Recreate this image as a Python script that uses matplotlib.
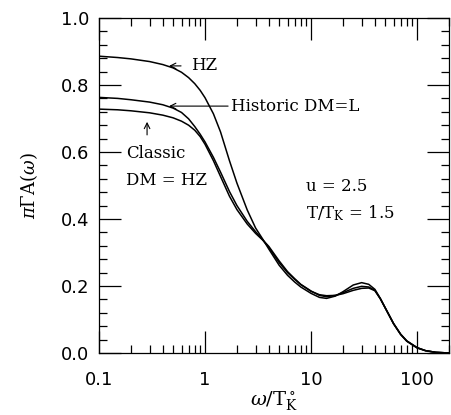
import matplotlib
matplotlib.use("Agg")
import matplotlib.pyplot as plt
from matplotlib.ticker import MultipleLocator, LogLocator, NullFormatter, FixedLocator, FixedFormatter

omega = [0.1, 0.15, 0.2, 0.3, 0.4, 0.5, 0.6, 0.7, 0.8, 0.9, 1.0, 1.2, 1.4, 1.7, 2.0,
         2.5, 3.0, 3.5, 4.0, 5, 6, 7, 8, 10, 12, 14, 17, 20, 25, 30, 35, 40, 45,
         50, 60, 70, 80, 100, 120, 150, 200]

hz = [0.886, 0.882, 0.878, 0.870, 0.861, 0.851, 0.838, 0.822, 0.804, 0.784, 0.762,
      0.714, 0.660, 0.574, 0.507, 0.427, 0.373, 0.340, 0.310, 0.262, 0.232, 0.212,
      0.197, 0.178, 0.166, 0.163, 0.170, 0.183, 0.203, 0.210, 0.205, 0.190, 0.163,
      0.135, 0.087, 0.055, 0.035, 0.015, 0.007, 0.002, 0.0]

historic = [0.763, 0.760, 0.756, 0.749, 0.741, 0.731, 0.718, 0.699, 0.676, 0.653, 0.630,
            0.584, 0.540, 0.482, 0.440, 0.393, 0.362, 0.338, 0.318, 0.275, 0.243, 0.222,
            0.205, 0.185, 0.172, 0.168, 0.172, 0.180, 0.193, 0.199, 0.197, 0.187, 0.162,
            0.135, 0.088, 0.056, 0.036, 0.016, 0.007, 0.002, 0.0]

classic = [0.728, 0.726, 0.723, 0.717, 0.710, 0.702, 0.692, 0.680, 0.665, 0.646, 0.623,
           0.574, 0.527, 0.468, 0.428, 0.385, 0.357, 0.337, 0.315, 0.270, 0.240, 0.220,
           0.204, 0.184, 0.174, 0.171, 0.172, 0.177, 0.187, 0.193, 0.194, 0.186, 0.162,
           0.135, 0.088, 0.056, 0.036, 0.016, 0.007, 0.002, 0.0]

xticks = [0.1, 1, 10, 100]
xticklabels = ["0.1", "1", "10", "100"]
yticks = [0.0, 0.2, 0.4, 0.6, 0.8, 1.0]
yticklabels = ["0.0", "0.2", "0.4", "0.6", "0.8", "1.0"]

plt.rcParams["mathtext.fontset"] = "dejavuserif"

fig = plt.figure(figsize=(4.51, 4.15), dpi=100)
ax = fig.add_axes([99 / 451, 62 / 415, 350 / 451, 335 / 415])

for y in (hz, historic, classic):
    ax.plot(omega, y, color="black", lw=1.1)

ax.set_xscale("log")
ax.set_xlim(0.1, 200)
ax.set_ylim(0.0, 1.0)

ax.xaxis.set_major_locator(FixedLocator(xticks))
ax.xaxis.set_major_formatter(FixedFormatter(xticklabels))
ax.xaxis.set_minor_locator(LogLocator(base=10, subs=range(2, 10), numticks=20))
ax.xaxis.set_minor_formatter(NullFormatter())
ax.yaxis.set_major_locator(FixedLocator(yticks))
ax.yaxis.set_major_formatter(FixedFormatter(yticklabels))
ax.yaxis.set_minor_locator(MultipleLocator(0.04))

ax.tick_params(which="both", direction="in", top=True, right=True, width=0.9)
ax.tick_params(which="major", length=16, labelsize=13)
ax.tick_params(axis="x", which="major", pad=13)
ax.tick_params(axis="y", which="major", pad=7)
ax.tick_params(which="minor", length=6)
for s in ax.spines.values():
    s.set_linewidth(0.9)

ax.set_xlabel(r"$\omega/\mathrm{T}_\mathrm{K}^\circ$", fontsize=14, labelpad=1)
ax.set_ylabel(r"$\pi\Gamma\mathrm{A}(\omega)$", fontsize=13, labelpad=15)

tf = dict(family="DejaVu Serif", fontsize=12, color="black")
arrow = dict(arrowstyle="->", lw=0.8, color="black", shrinkA=0, shrinkB=0)
ax.annotate("", xy=(0.458, 0.857), xytext=(0.594, 0.857), arrowprops=arrow)
ax.text(0.738, 0.857, "HZ", va="center", ha="left", **tf)
ax.annotate("", xy=(0.458, 0.737), xytext=(1.65, 0.737), arrowprops=arrow)
ax.text(1.76, 0.737, "Historic DM=L", va="center", ha="left", **tf)
ax.annotate("", xy=(0.284, 0.690), xytext=(0.284, 0.651), arrowprops=arrow)
ax.text(0.179, 0.597, "Classic", va="center", ha="left", **tf)
ax.text(0.179, 0.516, "DM = HZ", va="center", ha="left", **tf)
ax.text(8.95, 0.496, "u = 2.5", va="center", ha="left", **tf)
ax.text(8.95, 0.418, r"T/T$_\mathrm{K}$ = 1.5", va="center", ha="left", **tf)

fig.savefig("out.png", dpi=100)
